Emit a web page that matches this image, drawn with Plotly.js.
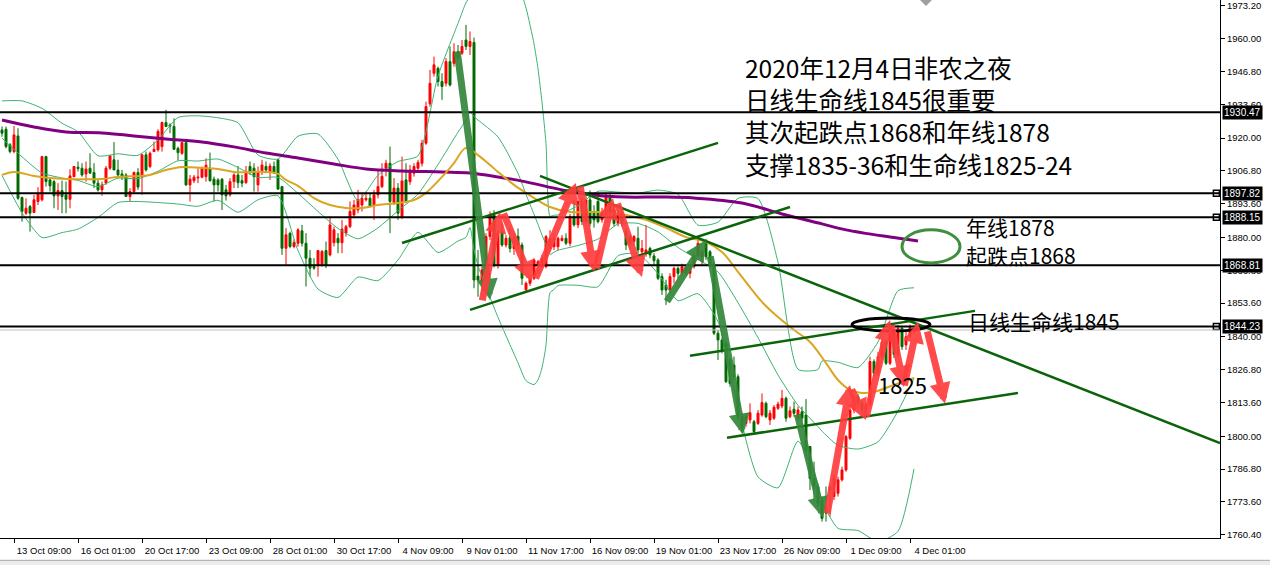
<!DOCTYPE html>
<html><head><meta charset="utf-8">
<script src="https://cdn.plot.ly/plotly-3.0.1.min.js"></script>
<style>html,body{margin:0;padding:0;background:#fff;}#chart{width:1270px;height:565px;}</style>
</head><body><div id="chart"></div>
<script>
// ---- data ----
const tickBars = [3,19,35,51,67,83,99,115,131,147,163,179,195,211,227];
const tickLabels = ['13 Oct 09:00','16 Oct 01:00','20 Oct 17:00','23 Oct 09:00','28 Oct 01:00','30 Oct 17:00','4 Nov 09:00','9 Nov 01:00','11 Nov 17:00','16 Nov 09:00','19 Nov 01:00','23 Nov 17:00','26 Nov 09:00','1 Dec 09:00','4 Dec 01:00'];
const priceTicks = [1973.2,1960.0,1946.8,1933.6,1920.0,1906.8,1893.6,1880.0,1866.8,1853.6,1840.0,1826.8,1813.6,1800.0,1786.8,1773.6,1760.4];

const open = [1923.3,1923.6,1917.3,1914.6,1920.9,1896.1,1889.8,1892.5,1890.1,1894.5,1895.2,1912.6,1903.2,1902.5,1896.8,1898.9,1897.2,1895.4,1904.5,1908.3,
1907.9,1905.6,1907.9,1906.2,1901.9,1899.2,1901.9,1907.9,1911.3,1907.2,1905.6,1905.2,1896.5,1898.5,1906.2,1904.5,1913.3,1908.6,1914.6,1915.3,
1916.6,1926.3,1925.3,1924.7,1915.9,1913.9,1918.2,1901.2,1902.9,1904.0,1904.3,1904.5,1907.9,1903.5,1903.2,1903.5,1899.2,1897.2,1902.5,1905.2,
1902.9,1902.1,1908.6,1907.9,1901.2,1906.9,1908.6,1906.2,1908.6,1911.3,1900.5,1875.7,1881.7,1876.4,1877.7,1882.7,1877.7,1871.7,1868.3,1869.0,
1869.0,1874.8,1873.0,1877.9,1879.7,1877.9,1881.8,1884.4,1889.1,1891.1,1893.1,1895.2,1895.8,1893.1,1897.2,1900.5,1907.9,1909.9,1894.1,1899.9,
1888.4,1903.2,1902.5,1905.9,1907.9,1909.9,1918.0,1933.8,1946.1,1948.1,1942.8,1942.1,1950.8,1950.1,1954.8,1954.2,1959.5,1956.9,1958.5,1864.5,
1861.6,1867.0,1880.4,1889.1,1869.0,1882.4,1877.0,1880.0,1875.6,1880.5,1877.0,1859.0,1861.6,1863.6,1868.3,1868.3,1868.3,1875.6,1876.3,1876.3,
1878.8,1879.7,1877.7,1888.4,1885.1,1894.5,1886.4,1895.2,1889.8,1894.5,1887.1,1889.8,1896.0,1891.1,1885.7,1889.5,1882.4,1880.4,1878.4,1879.7,
1874.3,1873.7,1875.6,1872.6,1871.0,1864.3,1860.9,1858.9,1864.3,1867.6,1865.6,1865.6,1865.6,1868.3,1872.5,1872.3,1877.7,1874.3,1869.0,1841.5,
1838.8,1837.4,1830.7,1828.7,1824.0,1808.0,1805.2,1806.6,1805.9,1805.2,1808.6,1813.3,1806.6,1807.3,1811.3,1812.2,1815.3,1807.9,1810.9,1807.3,
1809.9,1808.6,1795.9,1783.1,1779.8,1774.4,1771.7,1778.4,1775.8,1777.1,1782.5,1786.5,1799.2,1810.6,1816.0,1813.3,1810.6,1812.6,1830.1,1825.4,
1832.0,1838.0,1829.4,1841.5,1833.0,1843.5,1836.8,1840.1,1843.8];
const high = [1924.7,1924.7,1918.0,1924.9,1924.0,1896.5,1895.8,1893.1,1897.2,1900.3,1912.9,1912.9,1903.9,1903.2,1901.9,1902.9,1902.5,1907.5,1908.8,1910.6,
1909.9,1910.6,1913.9,1909.9,1903.2,1902.5,1908.8,1912.9,1918.4,1911.3,1907.2,1905.9,1899.9,1906.6,1907.9,1913.7,1914.6,1914.6,1918.6,1923.6,
1926.7,1931.4,1926.0,1928.0,1916.6,1918.6,1918.6,1905.2,1905.2,1907.9,1908.6,1911.9,1914.2,1904.5,1903.9,1903.9,1901.2,1903.9,1905.9,1908.8,
1905.2,1908.8,1910.6,1909.9,1908.6,1911.3,1910.6,1909.9,1910.6,1911.5,1900.8,1883.8,1882.4,1879.3,1883.8,1885.1,1881.8,1875.0,1871.7,1875.0,
1875.0,1878.4,1888.4,1884.4,1881.8,1887.1,1885.1,1894.5,1895.2,1899.2,1897.8,1898.5,1897.8,1899.2,1907.2,1909.9,1911.3,1916.6,1903.9,1901.9,
1912.6,1909.9,1909.2,1909.9,1911.3,1919.3,1934.7,1947.5,1952.8,1948.8,1946.1,1952.2,1956.9,1958.2,1957.5,1959.5,1965.6,1962.9,1960.5,1875.0,
1868.3,1881.7,1890.5,1891.0,1883.0,1885.7,1881.0,1884.0,1882.0,1883.7,1878.0,1862.3,1865.0,1871.7,1871.0,1873.0,1881.0,1883.0,1881.7,1880.4,
1881.0,1881.7,1889.5,1895.1,1899.2,1896.0,1897.0,1899.0,1893.0,1896.5,1892.0,1898.0,1898.0,1893.0,1891.0,1891.0,1883.7,1881.5,1881.0,1884.4,
1879.0,1885.1,1876.3,1873.7,1871.7,1865.6,1863.0,1865.6,1868.3,1868.3,1869.5,1869.0,1869.0,1874.0,1879.0,1875.0,1879.5,1875.0,1870.3,1842.8,
1839.5,1838.1,1831.5,1832.1,1825.0,1809.5,1809.3,1813.3,1806.6,1810.6,1817.3,1814.0,1810.6,1812.6,1814.0,1818.7,1816.0,1812.0,1814.0,1812.0,
1812.0,1815.0,1795.9,1789.8,1781.0,1775.8,1779.8,1780.5,1784.5,1783.8,1787.8,1800.6,1811.9,1816.5,1817.0,1814.5,1813.5,1832.1,1831.0,1834.0,
1839.5,1839.0,1843.5,1843.0,1844.8,1844.0,1842.8,1845.0,1844.6];
const low = [1920.6,1915.9,1913.9,1913.9,1895.2,1886.4,1889.1,1882.4,1890.1,1893.1,1894.5,1900.5,1898.5,1891.8,1891.1,1889.8,1889.8,1891.8,1904.3,1906.6,
1904.5,1902.5,1905.9,1899.9,1898.5,1896.8,1901.2,1907.2,1907.2,1903.9,1903.2,1896.5,1894.5,1897.8,1899.2,1897.2,1906.6,1907.9,1914.6,1914.6,
1914.6,1924.7,1922.0,1915.3,1911.0,1913.3,1900.8,1894.5,1901.9,1901.9,1903.9,1902.5,1902.5,1894.5,1898.5,1891.1,1894.9,1896.5,1899.9,1899.9,
1900.3,1901.6,1905.2,1898.5,1898.5,1905.2,1905.9,1903.2,1905.6,1899.2,1873.0,1869.0,1875.7,1875.7,1876.4,1876.4,1860.3,1864.3,1867.0,1864.3,
1868.3,1867.7,1872.4,1876.4,1873.7,1873.7,1880.4,1883.8,1887.8,1889.8,1890.5,1894.5,1892.2,1887.1,1895.8,1899.9,1904.6,1881.8,1893.1,1887.1,
1887.4,1893.8,1901.2,1904.5,1907.2,1908.6,1917.3,1932.7,1944.8,1940.8,1935.4,1940.8,1940.8,1948.8,1951.5,1953.5,1955.5,1953.5,1859.6,1856.2,
1857.0,1865.6,1879.0,1868.0,1867.5,1876.3,1876.0,1874.0,1873.0,1875.0,1860.9,1858.2,1860.5,1862.9,1865.6,1867.6,1867.6,1874.3,1875.0,1875.0,
1878.4,1877.0,1876.5,1884.4,1883.8,1885.0,1885.5,1884.5,1884.0,1885.7,1886.0,1889.0,1888.5,1884.4,1884.5,1884.4,1875.0,1876.5,1877.0,1873.7,
1872.3,1872.3,1871.7,1869.0,1862.9,1856.9,1852.9,1858.2,1861.6,1863.0,1864.5,1864.5,1863.6,1867.5,1874.0,1869.0,1871.0,1868.3,1840.8,1830.7,
1833.4,1821.5,1820.0,1822.7,1806.5,1801.5,1803.9,1805.2,1801.2,1804.6,1807.9,1807.3,1804.6,1806.6,1810.6,1811.3,1805.9,1807.3,1807.9,1806.6,
1806.0,1793.2,1778.4,1774.4,1771.5,1765.7,1765.7,1767.7,1774.4,1775.8,1781.8,1785.8,1798.6,1809.3,1812.0,1809.3,1809.5,1813.3,1824.0,1824.5,
1831.0,1828.7,1828.7,1831.5,1832.0,1834.8,1834.8,1839.5,1841.5];
const close = [1922.0,1916.6,1914.6,1921.3,1895.8,1890.5,1891.8,1889.8,1895.2,1897.8,1912.6,1902.5,1900.8,1896.8,1898.9,1896.5,1895.4,1904.8,1908.6,1907.8,
1905.2,1907.6,1905.9,1901.9,1899.2,1901.2,1907.9,1912.9,1907.2,1905.2,1904.8,1896.5,1898.5,1906.2,1900.3,1913.3,1907.2,1913.9,1915.5,1922.7,
1926.3,1924.7,1924.9,1915.5,1914.2,1918.2,1901.2,1903.5,1904.3,1904.3,1907.9,1909.1,1902.9,1901.2,1901.2,1897.2,1896.8,1902.5,1905.2,1902.1,
1901.9,1906.6,1906.6,1904.5,1906.6,1909.2,1907.2,1908.8,1906.2,1899.5,1875.7,1881.1,1876.4,1878.0,1883.1,1877.7,1871.7,1867.7,1867.7,1874.8,
1874.4,1869.0,1885.1,1883.1,1877.9,1883.4,1884.4,1890.5,1893.1,1895.2,1895.8,1895.8,1892.5,1897.2,1900.5,1904.6,1909.9,1894.5,1899.9,1889.8,
1902.8,1894.5,1907.2,1908.6,1910.2,1918.0,1932.7,1942.1,1949.5,1942.8,1940.8,1950.8,1941.4,1954.8,1952.2,1956.9,1956.9,1958.9,1862.9,1862.9,
1867.0,1880.4,1889.1,1869.0,1881.7,1877.0,1879.7,1875.6,1880.0,1877.0,1863.6,1861.6,1863.6,1871.0,1870.3,1871.7,1880.4,1879.7,1879.7,1879.7,
1879.7,1877.7,1888.4,1885.1,1894.5,1886.4,1895.2,1885.7,1887.1,1886.4,1889.8,1897.0,1889.8,1885.7,1889.5,1885.7,1877.0,1877.7,1880.4,1875.0,
1875.6,1875.0,1873.0,1870.7,1863.6,1858.9,1858.9,1864.3,1867.6,1865.6,1868.3,1868.3,1868.3,1872.5,1877.7,1874.3,1872.3,1869.0,1841.5,1838.8,
1834.8,1822.0,1821.3,1824.0,1808.0,1803.5,1807.9,1809.5,1801.9,1809.3,1813.6,1807.9,1809.3,1811.7,1813.0,1815.3,1807.3,1810.3,1809.3,1810.6,
1807.3,1794.5,1783.1,1779.8,1773.1,1767.0,1769.1,1779.8,1783.1,1782.5,1786.5,1799.9,1810.6,1815.3,1813.3,1810.6,1812.6,1830.1,1825.4,1832.0,
1838.0,1829.4,1841.5,1833.0,1843.5,1836.1,1840.1,1843.8,1842.8];

const maFastBars = [0,3,8,12,16,25,29,37,41,45,50,54,58,66,69,71,74,78,82,86,90,94,99,103,106,110,113,116,119,122,124,128,131,137,142,149,156,161,166,171,176,180,184,190,194,198,202,206,209,212,215,218,223,228];
const maFastValues = [1905.2,1906.4,1904.8,1904.0,1903.6,1903.6,1904.4,1905.2,1907.2,1908.4,1908.0,1907.6,1906.4,1906.4,1905.6,1903.2,1900.8,1895.9,1893.1,1891.9,1891.9,1893.1,1893.9,1895.1,1898.0,1904.4,1910.0,1916.1,1913.2,1909.2,1906.4,1901.2,1898.0,1892.3,1890.3,1890.3,1889.1,1887.1,1883.9,1880.2,1878.2,1874.2,1866.2,1854.1,1848.0,1842.8,1838.0,1829.5,1822.7,1818.7,1817.5,1817.9,1820.7,1823.5];
const maYearBars = [0,8,16,25,33,41,50,58,66,74,83,91,100,110,117,124,131,140,148,156,165,173,185,195,205,211,222,229];
const maYearValues = [1927.3,1924.5,1922.5,1922.1,1920.9,1919.7,1918.5,1916.5,1914.0,1912.0,1909.6,1907.6,1906.8,1906.4,1906.0,1904.4,1902.4,1899.2,1897.1,1896.3,1896.3,1895.9,1893.9,1889.5,1885.5,1883.1,1880.2,1878.6];

// Bollinger band readings (upper / middle / lower) at sampled bars
const bandBars = [0,5,10,15,19,24,29,34,39,44,49,54,59,64,69,74,79,84,89,94,99,104,109,114,116,117,118,119,124,129,131,133,134,135,136,137,138,139,144,149,154,159,164,169,174,179,184,189,194,199,204,205,209,214,219,224,228];
const bandUpper = [1935,1935,1932,1926,1922.6,1912.9,1913.7,1913.1,1919.3,1928.3,1929.0,1928.2,1926.2,1913.2,1911.6,1920.8,1921.7,1911.5,1894.9,1905.1,1910.6,1912.9,1945.0,1966.2,1974.5,1977.1,1982.3,1986.0,1993.1,1982.0,1972.4,1958.0,1947.9,1934.4,1917.8,1888.6,1889.0,1889.1,1892.8,1898.6,1898.3,1897.9,1899.1,1897.4,1885.0,1886.2,1895.8,1895.7,1870.1,1827.0,1826.9,1830.3,1829.8,1827.7,1838.0,1858.6,1859.8];
const bandMiddle = [1920,1912.5,1906,1904,1903.0,1900.5,1903.9,1903.7,1906.7,1910.9,1910.8,1911.6,1908.2,1904.2,1904.2,1897.8,1890.5,1883.7,1879.5,1883.9,1890.8,1897.5,1909.4,1922.4,1927.3,1930.5,1928.7,1927.3,1920.5,1905.8,1897.4,1889.4,1885.3,1881.0,1877.2,1873.2,1874.1,1874.9,1876.8,1879.4,1885.5,1885.7,1882.3,1876.0,1871.2,1866.2,1853.8,1839.7,1824.7,1812.5,1803.9,1802.1,1796.4,1794.9,1797.8,1810.2,1823.4];
const bandLower = [1905,1890,1880,1882,1883.4,1888.1,1894.1,1894.5,1894.1,1893.5,1892.6,1895.0,1890.2,1895.2,1896.8,1874.8,1859.3,1855.9,1864.1,1862.7,1871.0,1882.1,1874.0,1878.6,1880.1,1884.0,1875.1,1868.7,1847.9,1829.6,1822.4,1820.8,1822.7,1827.6,1836.6,1857.8,1859.1,1860.7,1860.8,1860.2,1872.7,1873.5,1865.5,1854.6,1857.4,1846.2,1811.8,1783.7,1779.3,1798.1,1780.9,1773.9,1763.0,1762.1,1757.6,1761.8,1786.9];

const levelValues = [1930.47,1897.82,1888.15,1868.81,1844.23];
const levelMarked = [false,true,true,false,true];
const bidPrice = 1842.8;

// trend lines: [bar0, price0, bar1, price1]
const trendLines = [[100,1877.8,179,1918.1],[117,1850.9,197,1892.3],[134.5,1904.8,304.5,1797.3],[172,1832.4,243.25,1850.5],[181.25,1799.4,254,1817.5]];
// arrows: [tailBar, tailPrice, headBar, headPrice, kind]
const arrows = [
 [113.75,1955.5,122,1854.9,'g'],[166,1853.7,176,1879.0,'g'],[177,1873.0,185.25,1800.6,'g'],[198.75,1809.4,205.25,1767.2,'g'],
 [120,1854.1,124.5,1890.3,'r'],[125.25,1890.3,132.5,1862.1,'r'],[133.25,1863.0,143.5,1902.0,'r'],[144.5,1901.2,148,1866.2,'r'],
 [148.5,1867.0,152.75,1895.9,'r'],[153.75,1894.3,160,1864.1,'r'],[206.25,1768.4,212,1820.7,'r'],[212.25,1819.5,216,1806.6,'r'],
 [216,1807.4,222,1846.8,'r'],[222.25,1845.2,225.5,1819.9,'r'],[225.5,1819.9,229,1846.0,'r'],[231.25,1842.8,235.75,1813.1,'r']];
// ellipses: [bar0, price0, bar1, price1, colour]
const ellipses = [[225,1883.1,239.5,1869.8,'#3f8f3f'],[212.5,1847.6,232,1842.4,'#000000']];
const noteLines = ['2020年12月4日非农之夜','日线生命线1845很重要','其次起跌点1868和年线1878','支撑1835-36和生命线1825-24'];
const noteBar = 186.25, notePrices = [1948.3,1935.4,1922.5,1909.6];
const labels = [['年线1878',241.5,1884.3,21],['起跌点1868',241.5,1873.0,21],['日线生命线1845',242,1846.4,21],['1825',219.5,1821.1,22]];

// ---- build ----
const bars = open.map((_, k) => k);
const bandLine = {color:'#3cb371', width:1, shape:'spline', smoothing:0.6};
const traces = [
 {type:'scatter', mode:'lines', x:bandBars, y:bandUpper, line:bandLine, hoverinfo:'skip', showlegend:false},
 {type:'scatter', mode:'lines', x:bandBars, y:bandMiddle, line:bandLine, hoverinfo:'skip', showlegend:false},
 {type:'scatter', mode:'lines', x:bandBars, y:bandLower, line:bandLine, hoverinfo:'skip', showlegend:false},
 {type:'candlestick', x:bars, open:open, high:high, low:low, close:close,
  increasing:{line:{color:'#ff0000',width:1}, fillcolor:'#ff0000'},
  decreasing:{line:{color:'#006a00',width:1}, fillcolor:'#006a00'},
  whiskerwidth:0, hoverinfo:'skip', showlegend:false},
 {type:'scatter', mode:'lines', x:maYearBars, y:maYearValues, line:{color:'#800080',width:3,shape:'spline'}, hoverinfo:'skip', showlegend:false},
 {type:'scatter', mode:'lines', x:maFastBars, y:maFastValues, line:{color:'#daa520',width:2,shape:'spline'}, hoverinfo:'skip', showlegend:false},
 {type:'scatter', mode:'markers', x:levelValues.filter((v,k)=>levelMarked[k]).map(()=>303.6), y:levelValues.filter((v,k)=>levelMarked[k]),
  marker:{symbol:'square',size:6,color:'#ffffff',line:{color:'#000000',width:1.5}}, hoverinfo:'skip', showlegend:false, cliponaxis:false}
];

const shapes = [];
shapes.push({type:'line', xref:'paper', x0:0, x1:1, yref:'y', y0:bidPrice, y1:bidPrice, line:{color:'#c0c0c0',width:1}});
levelValues.forEach(v => shapes.push({type:'line', xref:'paper', x0:0, x1:1, yref:'y', y0:v, y1:v, line:{color:'#000000',width:2}}));
trendLines.forEach(t => shapes.push({type:'line', xref:'x', yref:'y', x0:t[0], y0:t[1], x1:t[2], y1:t[3], line:{color:'#0a640a',width:2.5}}));
ellipses.forEach(e => shapes.push({type:'circle', xref:'x', yref:'y', x0:e[0], y0:e[1], x1:e[2], y1:e[3], line:{color:e[4],width:3}}));
// window chrome
shapes.push({type:'rect', xref:'paper', yref:'paper', x0:-0.01, x1:1.05, y0:-0.0415, y1:-0.07, fillcolor:'#ececec', line:{color:'#a8a8a8',width:1}, layer:'below'});
shapes.push({type:'path', xref:'paper', yref:'paper', path:'M 0.7541 1 L 0.7639 1 L 0.759 0.989 Z', fillcolor:'#a0a0a0', line:{width:0}});

const ann = [];
arrows.forEach(a => ann.push({x:a[2], y:a[3], ax:a[0], ay:a[1], xref:'x', yref:'y', axref:'x', ayref:'y', text:'', showarrow:true,
  arrowhead:2, arrowsize:0.6, arrowwidth:7, arrowcolor: a[4]==='r' ? '#ff3c3c' : '#33873a', standoff:0, startstandoff:0, opacity:0.92}));
noteLines.forEach((t,k) => ann.push({x:noteBar, y:notePrices[k], xref:'x', yref:'y', xanchor:'left', yanchor:'middle', xshift:-3, borderpad:0,
  text:t, showarrow:false, font:{family:'Noto Sans CJK SC', size:24.5, color:'#000000'}}));
labels.forEach(l => ann.push({x:l[1], y:l[2], xref:'x', yref:'y', xanchor:'left', yanchor:'middle', xshift:-3, borderpad:0, text:l[0], showarrow:false,
  font:{family:'Noto Sans CJK SC', size:l[3], color:'#000000'}}));
levelValues.forEach(v => ann.push({x:1, xref:'paper', xanchor:'left', xshift:2, y:v, yref:'y', yanchor:'middle', text:v.toFixed(2), showarrow:false,
  bgcolor:'#000000', borderpad:1, font:{family:'Liberation Sans', size:10, color:'#ffffff'}}));

const layout = {
  width:1270, height:565, margin:{l:0,r:50,t:0,b:27},
  paper_bgcolor:'#ffffff', plot_bgcolor:'#ffffff', showlegend:false, dragmode:false,
  xaxis:{range:[-0.5,304.5], tickvals:tickBars, ticktext:tickLabels, ticks:'outside', ticklen:4, tickcolor:'#000',
    showline:true, linecolor:'#000', linewidth:1, showgrid:false, zeroline:false, ticklabelshift:30,
    tickfont:{family:'Liberation Sans', size:9.5, color:'#000'}, rangeslider:{visible:false}, fixedrange:true},
  yaxis:{range:[1759.1,1975.6], side:'right', tickvals:priceTicks, tickformat:'.2f', ticks:'outside', ticklen:4, tickcolor:'#000',
    showline:true, linecolor:'#000', linewidth:1, showgrid:false, zeroline:false,
    tickfont:{family:'Liberation Sans', size:9.5, color:'#000'}, fixedrange:true},
  shapes:shapes, annotations:ann
};
Plotly.newPlot('chart', traces, layout, {displayModeBar:false, staticPlot:true});
</script></body></html>
